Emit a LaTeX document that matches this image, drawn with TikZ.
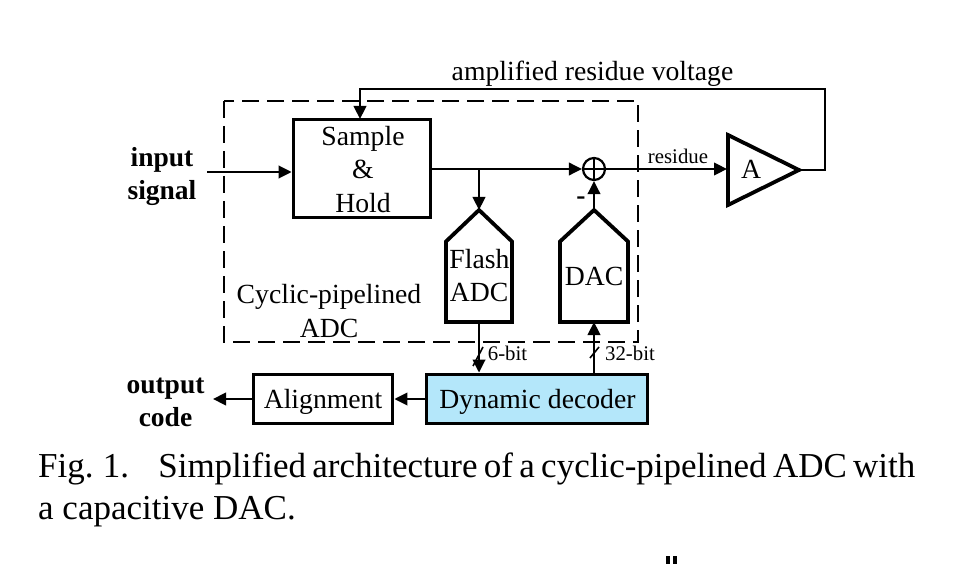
\documentclass[tikz,border=0pt]{standalone}
\usepackage{fontspec}
\setmainfont{Liberation Serif}
\usetikzlibrary{arrows.meta}
\newcommand{\fs}[1]{\fontsize{#1}{#1}\selectfont}
\tikzset{x=1pt,y=-1pt,
 thick box/.style={draw=black,line width=3.8pt,line join=miter},
 wire/.style={draw=black,line width=2.3pt},
 arr/.style={wire,-{Triangle[length=13pt,width=12.5pt]}},
 lab/.style={inner sep=0pt,anchor=base,font=\fs{27.7}},
 small/.style={inner sep=0pt,anchor=base,font=\fs{20.8}},
 bold/.style={inner sep=0pt,align=center,font=\fs{27.5}\bfseries},
 captext/.style={inner sep=0pt,anchor=base west,font=\fs{35}},
}
\definecolor{decoderblue}{RGB}{180,231,250}
\begin{document}
\begin{tikzpicture}
\useasboundingbox (0,0) rectangle (966,564);
% dashed frame
\draw[black,line width=2.2pt,dash pattern=on 17pt off 8pt] (224,101) rectangle (638,342);
% blocks
\node[thick box,minimum width=137pt,minimum height=98pt,inner sep=0pt] (sh) at (362,168.5) {};
\node[lab] (shA) at (363,145.5) {Sample};
\node[lab] (shB) at (363,178.5) {\&};
\node[lab] (shC) at (363,212) {Hold};
\coordinate (flashTop) at (479,210);
\coordinate (dacTop) at (594,210);
\coordinate (flashBot) at (479,322);
\coordinate (dacBot) at (594,322);
\draw[thick box] (flashTop) -- (512,241.5) -- (512,322) -- (446,322) -- (446,241.5) -- cycle;
\draw[thick box] (dacTop) -- (628,241.5) -- (628,322) -- (560,322) -- (560,241.5) -- cycle;
\node[lab] (fl) at (479.5,268.5) {Flash};
\node[lab] (ad) at (479,301.5) {ADC};
\node[lab] (da) at (594,285) {DAC};
\node[draw=black,line width=2.2pt,circle,minimum size=22pt,inner sep=0pt] (sum) at (594,169) {};
\draw[black,line width=2.2pt] (sum.north) -- (sum.south) (sum.west) -- (sum.east);
\draw[thick box] (728,135) -- (728,205) -- (799,170) -- cycle;
\coordinate (ampIn) at (727,169);
\coordinate (ampOut) at (799,170);
\node[lab] (ampA) at (751,179) {A};
\node[thick box,minimum width=139pt,minimum height=49pt,inner sep=0pt] (al) at (323,399) {};
\node[lab] (alT) at (323,408) {Alignment};
\node[thick box,fill=decoderblue,minimum width=221pt,minimum height=49pt,inner sep=0pt] (dec) at (537,399) {};
\node[lab] (decT) at (537.5,408) {Dynamic decoder};
% labels
\node[bold] (inp) at (162,176.5) {input\\[5.5pt]signal};
\node[bold] (out) at (165.5,402) {output\\[5.5pt]code};
\node[lab] (fb) at (592.5,80.5) {amplified residue voltage};
\node[small] (res) at (678,164) {residue};
\node[lab] (cy) at (329,303) {Cyclic-pipelined};
\node[lab] (cy2) at (329,337) {ADC};
\node[small] (b6) at (507.5,360) {6-bit};
\node[small] (b32) at (630,360) {32-bit};
\node[bold] (minus) at (581,201) {-};
% connectors
\coordinate (inS) at (207,172);
\coordinate (jun) at (479,169);
\draw[arr] (inS) -- (sh.west |- inS);
\draw[arr] (sh.east |- jun) -- (sum.west);
\draw[arr] (jun) -- (flashTop);
\draw[arr] (dacTop) -- (sum.south);
\draw[arr] (sum.east) -- (ampIn);
\coordinate (fbA) at (825,170);
\coordinate (fbB) at (825,89);
\coordinate (fbC) at (360,89);
\coordinate (fbD) at (360,119);
\draw[arr,line join=miter] (ampOut) -- (fbA) -- (fbB) -- (fbC) -- (fbD);
\draw[arr] (flashBot) -- (flashBot |- dec.north);
\draw[arr] (dacBot |- dec.north) -- (dacBot);
\draw[arr] (dec.west) -- (al.east);
\coordinate (outTip) at (213,399);
\draw[arr] (al.west) -- (outTip);
\draw[black,line width=1.6pt] (473,366) -- (483,347);
\draw[black,line width=1.6pt] (590,358) -- (599,347);
% caption
\node[captext] (c1) at (38,477) {\spaceskip=6.3pt Fig. 1.\hspace{20pt} Simplified architecture of a cyclic-pipelined ADC with};
\node[captext] (c2) at (38,519) {a capacitive DAC.};
\fill[black] (666,556) rectangle (670,564);
\fill[black] (673,556) rectangle (677,564);
\end{tikzpicture}
\end{document}
